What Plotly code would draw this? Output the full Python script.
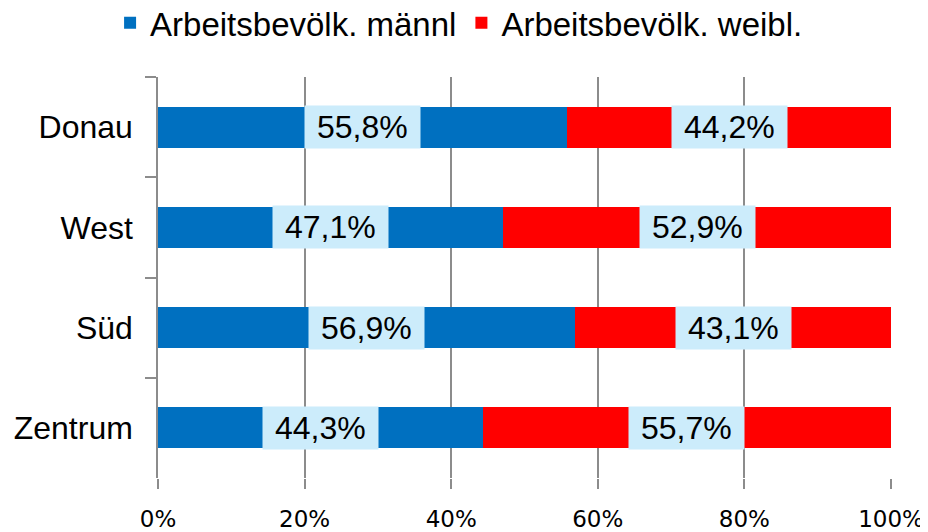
import plotly.graph_objects as go

regionen = ["Donau", "West", "Süd", "Zentrum"]
maennlich = [55.8, 47.1, 56.9, 44.3]
weiblich = [44.2, 52.9, 43.1, 55.7]
x_ticks = [0, 20, 40, 60, 80, 100]
x_ticktext = ["0%", "20%", "40%", "60%", "80%", "100%"]

BLAU = "#0070C0"
ROT = "#FF0000"
GRAU = "#8C8C8C"
LABEL_BG = "#CCECFB"

fig = go.Figure()
fig.add_bar(
    y=regionen, x=maennlich, name="Arbeitsbevölk. männl",
    orientation="h", marker_color=BLAU, marker_line_width=0,
)
fig.add_bar(
    y=regionen, x=weiblich, name="Arbeitsbevölk. weibl.",
    orientation="h", marker_color=ROT, marker_line_width=0,
)

# Beschriftungen mit hellblauem Hintergrund in der Mitte jedes Segments
for reg, m, w in zip(regionen, maennlich, weiblich):
    for start, wert in ((0, m), (m, w)):
        fig.add_annotation(
            x=start + wert / 2, y=reg, xref="x", yref="y",
            text="\u00a0" + f"{wert:.1f}".replace(".", ",") + "%\u00a0",
            showarrow=False, bgcolor=LABEL_BG, borderpad=3,
            font=dict(family="Liberation Sans, Arial", size=32, color="black"),
        )

# Seite hat 8px Rand -> Ränder entsprechend verschoben
fig.update_layout(
    barmode="stack",
    bargap=0.59,
    width=928, height=532,
    margin=dict(l=150, r=45, t=69, b=62, autoexpand=False),
    plot_bgcolor="white", paper_bgcolor="white",
    showlegend=True,
    legend=dict(
        orientation="h", xref="container", x=0.11, xanchor="left",
        y=1.135, yanchor="middle",
        font=dict(family="Liberation Sans, Arial", size=33, color="black"),
        itemwidth=30, traceorder="normal",
    ),
    xaxis=dict(
        range=[0, 100], tickmode="array", tickvals=x_ticks, ticktext=x_ticktext,
        showgrid=True, gridcolor=GRAU, gridwidth=1.5,
        showline=False, zeroline=False, automargin=False,
        ticks="outside", ticklen=10, tickcolor=GRAU, tickwidth=1.5,
        ticklabelstandoff=10,
        tickfont=dict(family="DejaVu Sans", size=23, color="black"),
    ),
    yaxis=dict(
        autorange="reversed", automargin=False,
        showline=True, linecolor=GRAU, linewidth=1.5,
        ticks="outside", ticklen=11, tickcolor=GRAU, tickwidth=1.5,
        tickson="boundaries", ticklabelstandoff=17,
        tickfont=dict(family="Liberation Sans, Arial", size=32, color="black"),
    ),
)

fig.write_html("out.html")
